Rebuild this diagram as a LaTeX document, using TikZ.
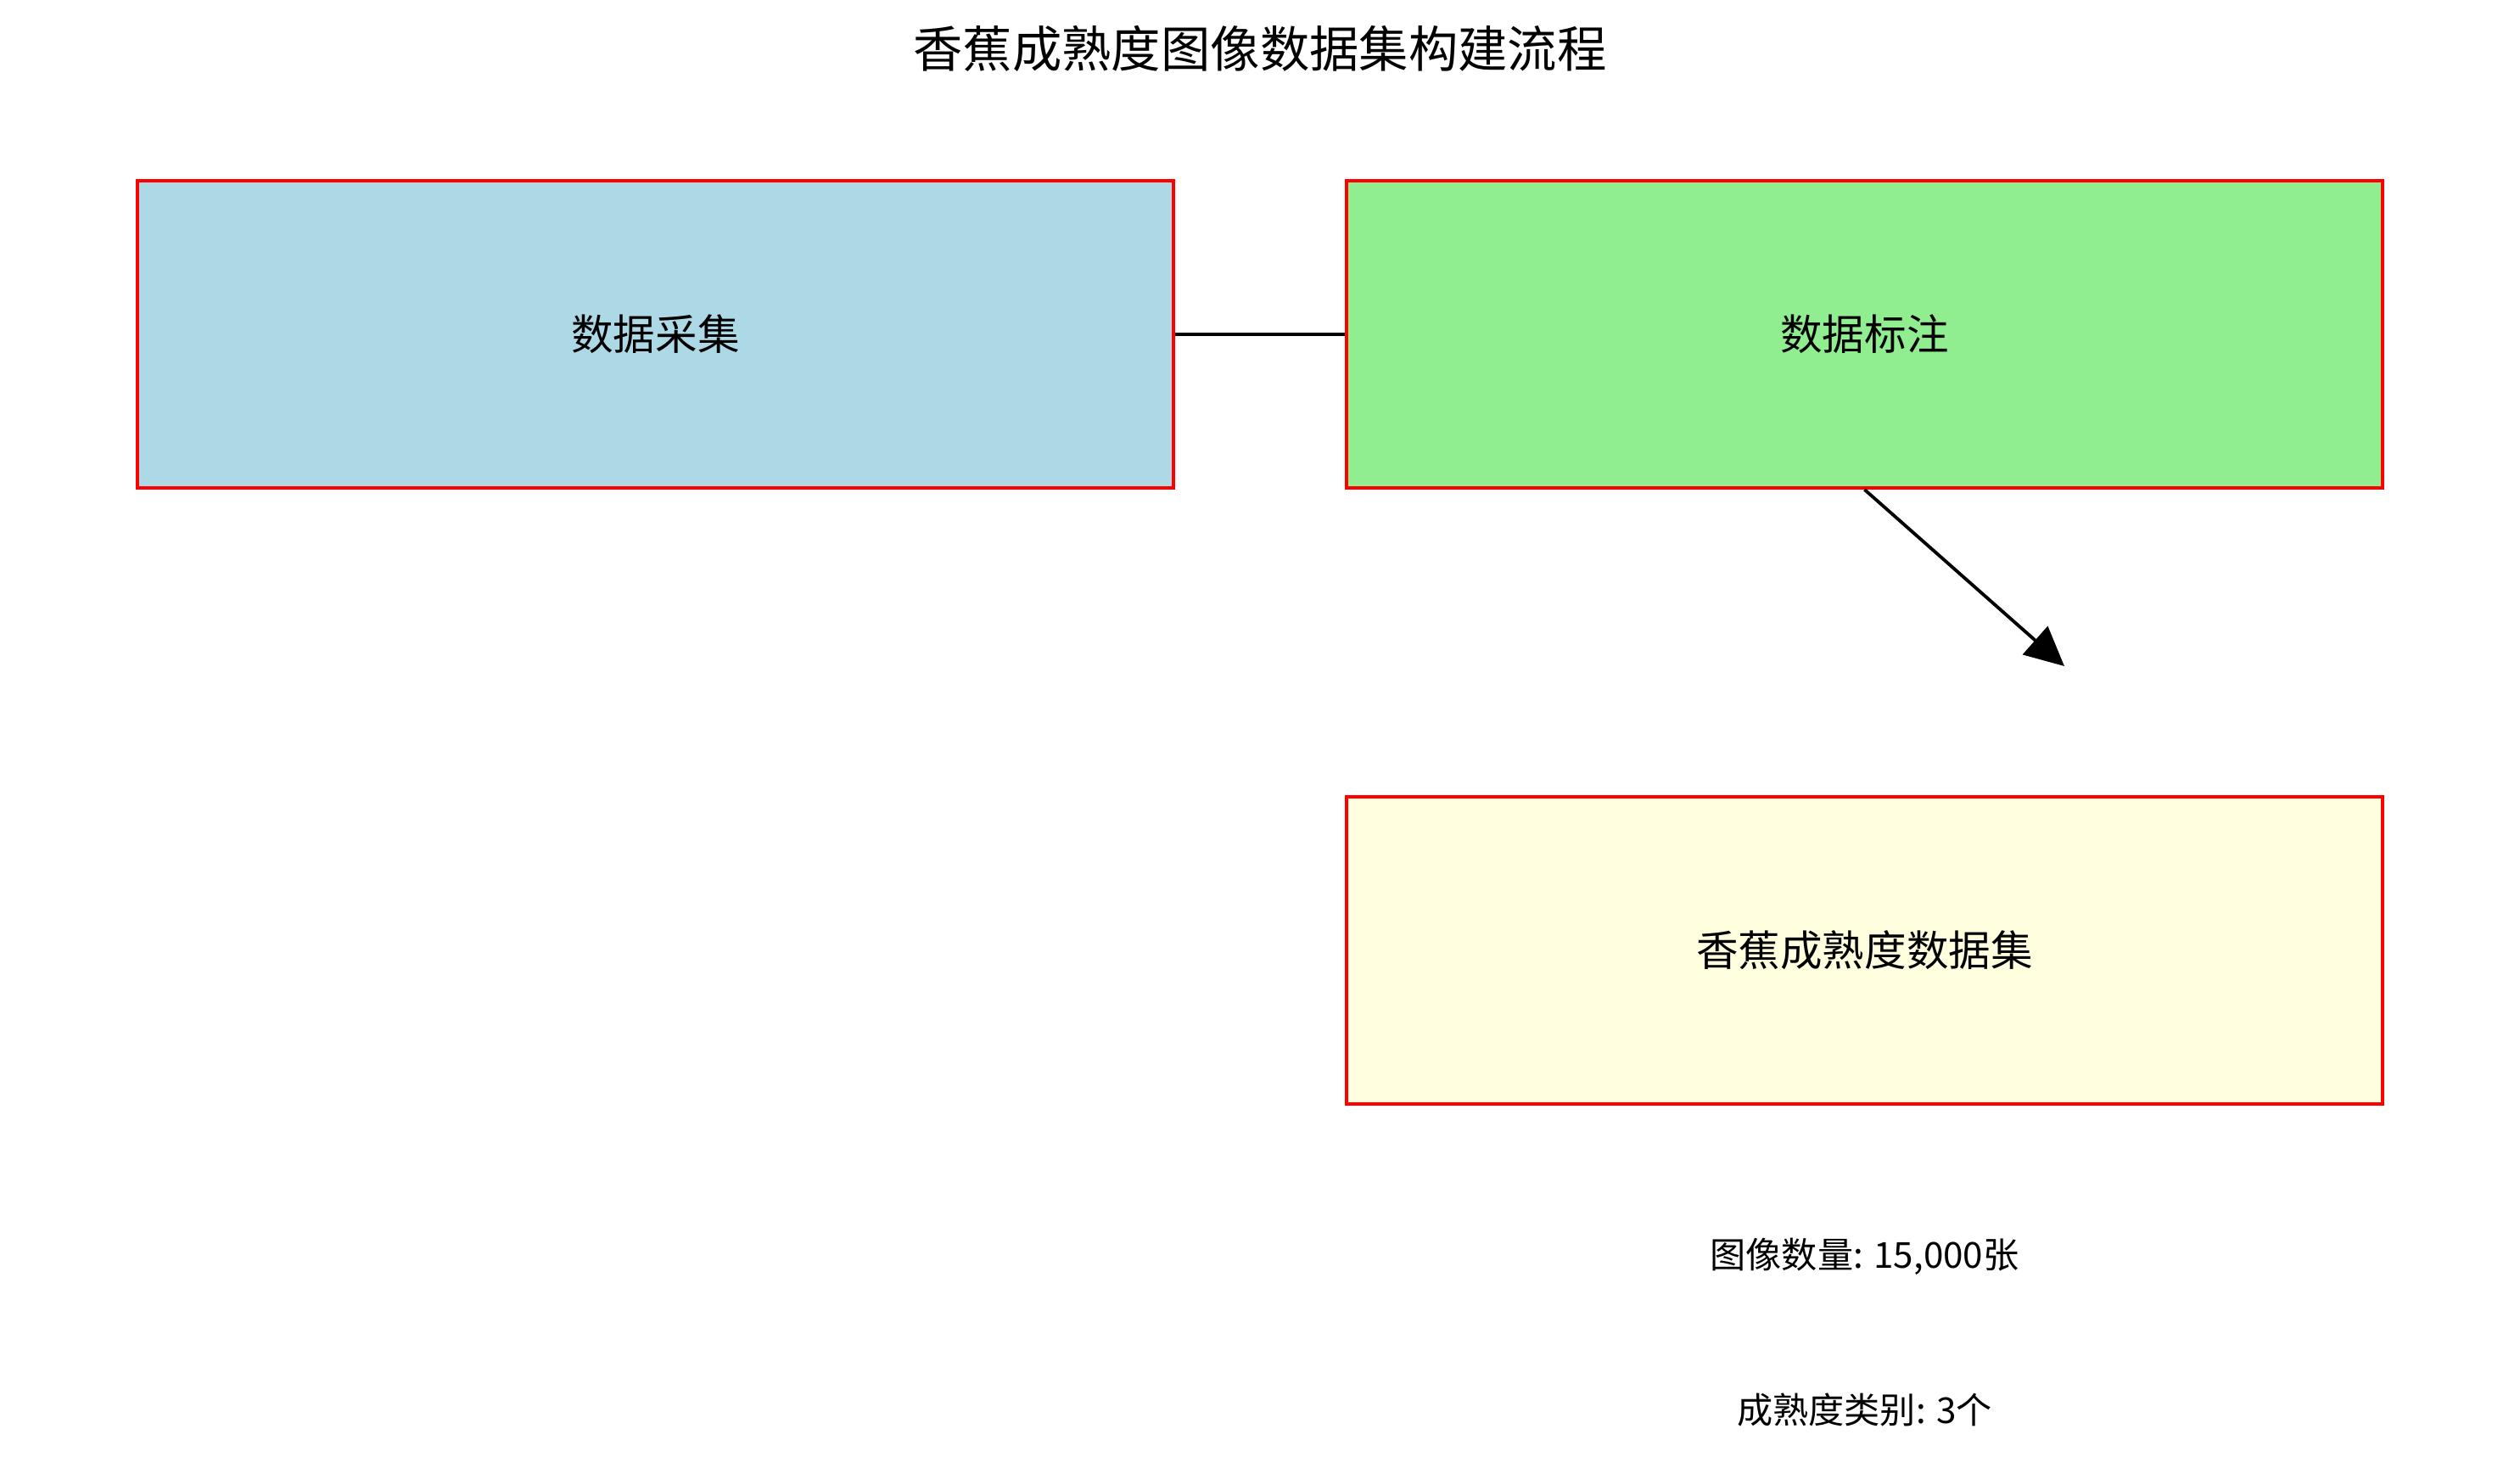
\documentclass[tikz,border=0pt]{standalone}
\usepackage{fontspec}
\usepackage{xcolor}
\usepackage{tikz}
\usetikzlibrary{arrows.meta, positioning, calc}
\setmainfont{Noto Sans CJK SC}
\definecolor{boxblue}{RGB}{173, 216, 230}
\definecolor{boxgreen}{RGB}{144, 238, 144}
\definecolor{boxyellow}{RGB}{255, 255, 224}
\definecolor{boxred}{RGB}{255, 0, 0}

\begin{document}
\begin{tikzpicture}[
        stepbox/.style={draw=boxred, line width=1.1pt, minimum width=12.21cm, minimum height=3.62cm, font=\fontsize{14.1}{17}\selectfont},
        infotext/.style={font=\fontsize{12}{14}\selectfont}
    ]
    \useasboundingbox (0,0) rectangle (29.7,-17.16);

    \node[font=\fontsize{16.6}{20}\selectfont] (title) at (14.85,-0.57) {香蕉成熟度图像数据集构建流程};

    \node[stepbox, fill=boxblue] (collect) at (7.725,-3.94) {数据采集};
    \node[stepbox, fill=boxgreen] (annotate) at (21.975,-3.94) {数据标注};
    \node[stepbox, fill=boxyellow] (dataset) at (21.975,-11.20) {香蕉成熟度数据集};

    % Verbindungen
    \coordinate (arrowend) at (24.33,-7.85);
    \draw[line width=1.1pt] (collect.east) -- (annotate.west);
    \draw[line width=1.1pt, -{Triangle[length=0.46cm, width=0.44cm]}] (annotate.south) -- (arrowend);

    % Angaben zum Datensatz
    \node[infotext] (count) at (21.975,-14.81) {图像数量: 15,000张};
    \node[infotext] (classes) at (21.975,-16.61) {成熟度类别: 3个};
\end{tikzpicture}
\end{document}
